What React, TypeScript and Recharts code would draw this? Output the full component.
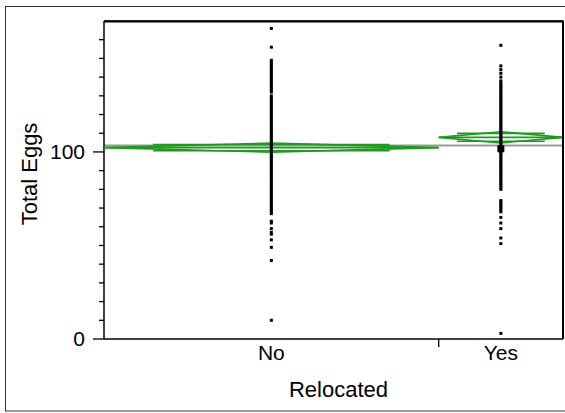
import { ComposedChart, Scatter, XAxis, YAxis, ReferenceLine } from 'recharts';

// groups on the x axis (widths follow group size, as in a JMP oneway plot)
const groups = ['No', 'Yes'];
const groupN = [350, 130];
const groupMean = [102.3, 107.8];
const groupCI = [2.4, 3.0];
const grandMean = 103.4;

// Total Eggs per nest
const noEggs = [
  166, 156,
  149, 148, 147, 146, 145, 144, 143, 142, 141, 140, 139, 138, 137, 136, 135, 134, 133, 132,
  130, 129, 128, 127, 126, 125, 124, 123, 122, 121, 120, 119, 118, 117, 116, 115, 114, 113,
  112, 111, 110, 109, 108, 107, 106, 105, 104, 103, 102, 101, 100, 99, 98, 97, 96, 95, 94,
  93, 92, 91, 90, 89, 88, 87, 86, 85, 84, 83, 82, 81, 80, 79, 78, 77, 76, 75, 74, 73, 72,
  71, 70, 69, 68,
  67, 63, 62, 59, 57, 56, 53, 49, 42, 10,
];
const yesEggs = [
  157, 146, 144, 142, 140,
  138, 137, 136, 135, 134, 133, 132, 131, 130, 129, 128, 127, 126, 125, 124, 123, 122, 121,
  120, 119, 118, 117, 116, 115, 114, 113, 112, 111, 110, 109, 108, 107, 106, 105, 104, 103,
  101, 100, 99, 98, 97, 96, 95, 94, 93, 92, 91, 90, 89, 88, 87, 86, 85, 84, 83, 82, 81, 80,
  74, 73, 72, 71, 70, 69, 68,
  65, 62, 59, 54, 51, 3,
];
const yesMarked = [101.7];

const yMax = 170;
const yTicks = [0, 10, 20, 30, 40, 50, 60, 70, 80, 90, 100, 110, 120, 130, 140, 150, 160];
const yLabeled = [0, 100];

const FONT = '"Liberation Sans", Arial, sans-serif';
const GREEN = '#1e9a1e';

const total = groupN[0] + groupN[1];
const starts = [0, groupN[0]];
const centers = groups.map((_, i) => starts[i] + groupN[i] / 2);

function diamond(i: number) {
  const x0 = starts[i];
  const x1 = starts[i] + groupN[i];
  const xc = centers[i];
  const m = groupMean[i];
  const h = groupCI[i];
  return [
    { x: x0, y: m },
    { x: xc, y: m + h },
    { x: x1, y: m },
    { x: xc, y: m - h },
    { x: x0, y: m },
  ];
}

function meanLine(i: number) {
  return [
    { x: starts[i], y: groupMean[i] },
    { x: starts[i] + groupN[i], y: groupMean[i] },
  ];
}

function overlapMark(i: number, sign: number) {
  const inset = (1 - 1 / Math.SQRT2) * (groupN[i] / 2);
  const y = groupMean[i] + (sign * groupCI[i]) / Math.SQRT2;
  return [
    { x: starts[i] + inset, y },
    { x: starts[i] + groupN[i] - inset, y },
  ];
}

const Square = (props: any) => (
  <rect x={props.cx - 1.5} y={props.cy - 1.5} width={3} height={3} fill="#000" />
);
const BigSquare = (props: any) => (
  <rect x={props.cx - 3.5} y={props.cy - 3.5} width={7} height={7} fill="#000" />
);
const NoShape = () => <g />;

const YTick = (props: any) => {
  const { x, y, payload } = props;
  const major = yLabeled.includes(payload.value);
  return (
    <g>
      <line x1={x - (major ? 11 : 5)} x2={x} y1={y} y2={y} stroke="#000" strokeWidth={1.3} />
      {major && (
        <text x={x - 19} y={y} dy={7} textAnchor="end" fontSize={21} fontFamily={FONT} fill="#000">
          {payload.value}
        </text>
      )}
    </g>
  );
};

const XTick = (props: any) => {
  const { x, y, payload } = props;
  const idx = centers.indexOf(payload.value);
  if (idx < 0) {
    return <line x1={x} x2={x} y1={y} y2={y + 8} stroke="#000" strokeWidth={1.3} />;
  }
  return (
    <text x={x} y={y} dy={21} textAnchor="middle" fontSize={21} fontFamily={FONT} fill="#000">
      {groups[idx]}
    </text>
  );
};

export default function App() {
  const lineStyle = { stroke: GREEN, strokeWidth: 1.6 };
  return (
    <div
      style={{
        position: 'absolute',
        left: 0,
        top: 0,
        width: 565,
        height: 413,
        background: '#fff',
        overflow: 'hidden',
      }}
    >
      <ComposedChart
        width={565}
        height={413}
        margin={{ top: 21, right: 2, bottom: 0, left: 0 }}
        style={{ position: 'absolute', left: 0, top: 0 }}
      >
        <XAxis
          type="number"
          dataKey="x"
          domain={[0, total]}
          ticks={[centers[0], starts[1], centers[1]]}
          interval={0}
          height={74}
          tickSize={0}
          tickMargin={0}
          tickLine={false}
          axisLine={{ stroke: '#000', strokeWidth: 1.5 }}
          tick={<XTick />}
          label={{
            content: (p: any) => (
              <text
                x={p.viewBox.x + p.viewBox.width / 2 + 5}
                y={397}
                textAnchor="middle"
                fontSize={22}
                fontFamily={FONT}
                fill="#000"
              >
                Relocated
              </text>
            ),
          }}
        />
        <YAxis
          type="number"
          dataKey="y"
          domain={[0, yMax]}
          ticks={yTicks}
          interval={0}
          width={104}
          tickSize={0}
          tickMargin={0}
          tickLine={false}
          axisLine={{ stroke: '#000', strokeWidth: 1.5 }}
          tick={<YTick />}
          label={{
            content: (p: any) => (
              <text
                x={37}
                y={p.viewBox.y + p.viewBox.height / 2 - 6}
                transform={`rotate(-90, 37, ${p.viewBox.y + p.viewBox.height / 2 - 6})`}
                textAnchor="middle"
                fontSize={22}
                fontFamily={FONT}
                fill="#000"
              >
                Total Eggs
              </text>
            ),
          }}
        />
        <ReferenceLine y={yMax} stroke="#000" strokeWidth={1.5} ifOverflow="extendDomain" />
        <ReferenceLine y={grandMean} stroke="#9a9a9a" strokeWidth={2} />
        {groups.map((g, i) => (
          <Scatter key={`d-${g}`} data={diamond(i)} line={lineStyle} shape={NoShape} isAnimationActive={false} />
        ))}
        {groups.map((g, i) => (
          <Scatter key={`m-${g}`} data={meanLine(i)} line={lineStyle} shape={NoShape} isAnimationActive={false} />
        ))}
        {groups.map((g, i) => (
          <Scatter key={`u-${g}`} data={overlapMark(i, 1)} line={lineStyle} shape={NoShape} isAnimationActive={false} />
        ))}
        {groups.map((g, i) => (
          <Scatter key={`l-${g}`} data={overlapMark(i, -1)} line={lineStyle} shape={NoShape} isAnimationActive={false} />
        ))}
        <Scatter data={noEggs.map((v) => ({ x: centers[0], y: v }))} shape={Square} isAnimationActive={false} />
        <Scatter data={yesEggs.map((v) => ({ x: centers[1], y: v }))} shape={Square} isAnimationActive={false} />
        <Scatter data={yesMarked.map((v) => ({ x: centers[1], y: v }))} shape={BigSquare} isAnimationActive={false} />
      </ComposedChart>
      {/* outer frame and the top / right edges of the plot frame */}
      <svg
        width={565}
        height={413}
        style={{ position: 'absolute', left: 0, top: 0, pointerEvents: 'none', zIndex: 10 }}
      >
        <rect x={5.5} y={6.5} width={565} height={404.5} fill="none" stroke="#333" strokeWidth={1} />
        <path d="M104 21.5 H563 V339" fill="none" stroke="#000" strokeWidth={2} />
      </svg>
    </div>
  );
}
